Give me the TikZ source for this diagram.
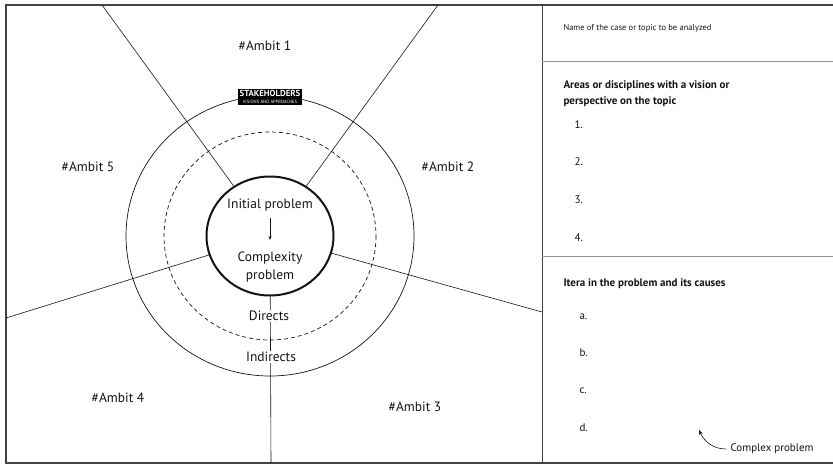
\documentclass[tikz,border=0pt]{standalone}
\usepackage{fontspec}
\setmainfont{PT Sans}
\usetikzlibrary{arrows.meta,positioning,shapes.geometric}
\definecolor{ink}{RGB}{20,20,20}
\definecolor{rulegray}{RGB}{150,150,150}
\tikzset{
  frame/.style={draw=ink!80,line width=1.3pt},
  spoke/.style={draw=ink,line width=0.6pt},
  ring/.style={draw=ink,line width=0.7pt},
  ambit/.style={font=\fontsize{13.5}{16}\selectfont,text=ink},
  core/.style={font=\fontsize{13.5}{18}\selectfont,align=center,text=ink,inner sep=1pt},
  % right panel
  head/.style={font=\fontsize{11}{16}\selectfont\bfseries,align=left,anchor=west,text=ink},
  item/.style={font=\fontsize{11}{13}\selectfont,anchor=west,text=ink},
  note/.style={font=\fontsize{8.5}{10}\selectfont,anchor=west,text=ink},
}

\begin{document}
\begin{tikzpicture}[x=1pt,y=-1pt]
  \useasboundingbox (0,0) rectangle (833,467);
  % frame and panel
  \draw[frame] (840,5) -- (6,5) -- (6,463) -- (840,463);
  \draw[ink!80,line width=0.8pt] (542,5) -- (542,463);
  \draw[rulegray,line width=0.8pt] (542,61) -- (840,61);
  \draw[rulegray,line width=0.8pt] (542,256) -- (840,256);
  % rings
  \coordinate (c) at (270,236);
  \draw[ring] (c) ellipse [x radius=144, y radius=140];
  \draw[ring,dashed,dash pattern=on 4pt off 3pt] (c) ellipse [x radius=106, y radius=104];
  \node[ellipse,draw=ink,line width=2pt,minimum width=127,minimum height=119] (core) at (c) {};
  % spokes
  \coordinate (t1) at (102,5);
  \coordinate (t2) at (438,5);
  \coordinate (r1) at (542,312);
  \coordinate (l1) at (6,318);
  \coordinate (b1) at (271,463);
  \foreach \p in {t1,t2,r1,l1,b1} \draw[spoke] (core) -- (\p);
  % stakeholders tag
  \node[fill=black,text=white,align=center,inner xsep=2pt,inner ysep=1.2pt,
    font=\fontsize{8.8}{7}\selectfont\bfseries] (stake) at (270,97)
    {STAKEHOLDERS\\[-0.5pt]{\fontsize{4.6}{5}\selectfont\mdseries VISIONS AND APPROACHES}};
  % centre texts
  \node[core] (init) at (270,205) {Initial problem};
  \node[core] (cmplx) at (270,267) {Complexity\\problem};
  \draw[-{Stealth[length=4pt,width=3pt]},ink,line width=0.6pt] (270,218) -- (270,240);
  \node[core,fill=white] (dir) at (269,316) {Directs};
  \node[core,fill=white] (indir) at (271,357) {Indirects};
  % ambits
  \node[ambit] (am1) at (265,46) {\#Ambit 1};
  \node[ambit] (am2) at (448,167) {\#Ambit 2};
  \node[ambit] (am3) at (415,407) {\#Ambit 3};
  \node[ambit] (am4) at (118,398) {\#Ambit 4};
  \node[ambit] (am5) at (88,167) {\#Ambit 5};
  % right panel texts
  \node[note] (case) at (560,28) {Name of the case or topic to be analyzed};
  \node[head] (areas) at (560,94) {Areas or disciplines with a vision or\\perspective on the topic};
  \foreach \n/\y in {1/125,2/162,3/200,4/238}
    \node[item] (area\n) at (571,\y) {\n.};
  \node[head] (itera) at (560,284) {Itera in the problem and its causes};
  \foreach \n/\y in {a/317,b/353,c/391,d/428}
    \node[item] (cause\n) at (576,\y) {\n.};
  \node[item] (cplx) at (727,449) {Complex problem};
  \coordinate (tip) at (699,430);
  \draw[-{Stealth[length=5pt,width=4pt]},ink,line width=0.6pt] ([xshift=-1pt]cplx.west) to[out=180,in=-65] (tip);
\end{tikzpicture}
\end{document}
